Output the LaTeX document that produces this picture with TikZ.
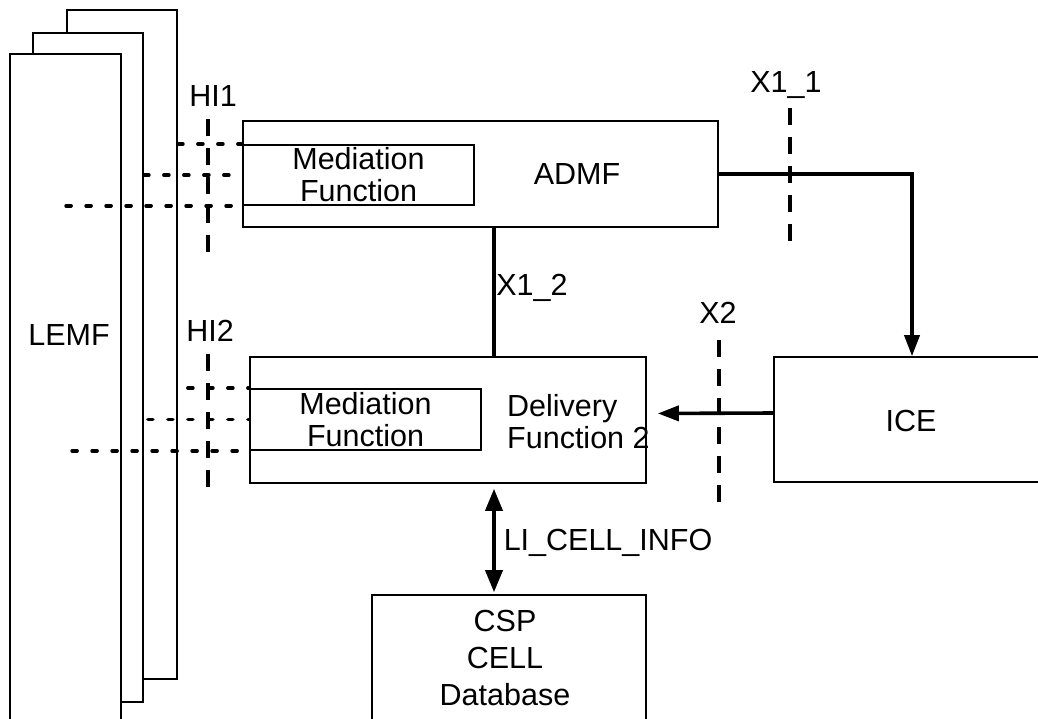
\documentclass[tikz,border=0pt]{standalone}
\usepackage{fontspec}
\setmainfont{Liberation Sans}
\usetikzlibrary{arrows.meta,positioning}
\tikzset{
  lbox/.style ={draw, line width=1.6pt, fill=white, inner sep=0pt,
                font=\fontsize{30.5}{32}\selectfont, align=center},
  ltext/.style={inner sep=0pt, font=\fontsize{30.5}{32}\selectfont},
  lemf/.style ={draw, line width=1.8pt, fill=white, inner sep=0pt,
                minimum width=110pt, minimum height=669pt},
  ifline/.style={line width=3.4pt, dash pattern=on 17pt off 12pt},
  hiline/.style={line width=3.6pt, line cap=round, dash pattern=on 5pt off 15pt},
  flow/.style ={line width=3.6pt, -{Triangle[length=21pt,width=15pt]}},
  flowboth/.style={line width=3.6pt,
                {Triangle[length=22pt,width=17pt]}-{Triangle[length=22pt,width=17pt]}},
}
\begin{document}
\begin{tikzpicture}[x=1pt, y=-1pt,
    ibox/.style={lbox, minimum width=231pt, minimum height=60pt}]
  \clip (0,0) rectangle (1038,718);
  \fill[white] (0,0) rectangle (1038,718);

  \node[lemf] (lemf3) at (122,344.5) {};
  \node[lemf] (lemf2) at (88,367.5) {};
  \node[lemf, minimum width=111pt, minimum height=676pt] (lemf1) at (65.5,392) {};
  \node[ltext, anchor=base] (lemflbl) at (69,345) {LEMF};

  \node[lbox, minimum width=475pt, minimum height=106pt] (admf) at (480.5,174) {};
  \node[ibox] (med1) at (358.5,175) {Mediation\\Function};
  \node[ltext, anchor=base] (admflbl) at (577,184) {ADMF};

  \node[lbox, minimum width=396pt, minimum height=126pt] (df) at (448,420) {};
  \node[ibox, minimum height=61pt] (med2) at (365.5,419.5) {Mediation\\Function};
  \node[ltext, anchor=west, align=left] (dflbl) at (507,422) {Delivery\\Function 2};

  \node[lbox, minimum width=276pt, minimum height=125pt] (ice) at (912,419.5) {};
  \node[ltext, anchor=base] (icelbl) at (911,431) {ICE};

  \node[lbox, minimum width=274pt, minimum height=135pt] (csp) at (509,662.5) {};
  \node[ltext, align=center, font=\fontsize{30.5}{37}\selectfont] (csplbl) at (505,657.5)
    {CSP\\CELL\\Database};

  \coordinate (spine) at (494,300);

  \node[ltext, anchor=base] (hi1) at (213,106) {HI1};
  \node[ltext, anchor=base] (hi2) at (210,341) {HI2};
  \node[ltext, anchor=base] (x11) at (786,92) {X1\_1};
  \node[ltext, anchor=base] (x12) at (532,295) {X1\_2};
  \node[ltext, anchor=base] (x2)  at (718,323) {X2};
  \node[ltext, anchor=base] (li)  at (608,550) {LI\_CELL\_INFO};

  \draw[hiline] (lemf3.east |- med1.north) -- (med1.north west);
  \draw[hiline] (lemf2.east |- med1.west) -- (med1.west);
  \draw[hiline] (lemf3.west |- med1.south) -- (med1.south west);
  \draw[hiline] ([xshift=10pt]lemf3.east |- med2.north) -- (med2.north west);
  \draw[hiline] ([xshift=4pt]lemf2.east |- med2.west) -- (med2.west);
  \draw[hiline] ([xshift=6pt]lemf3.west |- med2.south) -- (med2.south west);

  \draw[ifline] (208,119) -- (208,252);
  \draw[ifline] (208,354) -- (208,487);
  \draw[ifline] (790,108) -- (790,241);
  \draw[ifline] (719,340) -- (719,502);

  \draw[flow] (admf.east) -| (ice.north);
  \draw[flow, shorten >=11pt] ([yshift=6.5pt]ice.west) -- ([yshift=6.5pt]df.east);
  \draw[line width=3.2pt] (admf.south -| spine) -- (df.north -| spine);
  \draw[flowboth, shorten <=5pt, shorten >=2pt] (df.south -| spine) -- (csp.north -| spine);
\end{tikzpicture}
\end{document}
